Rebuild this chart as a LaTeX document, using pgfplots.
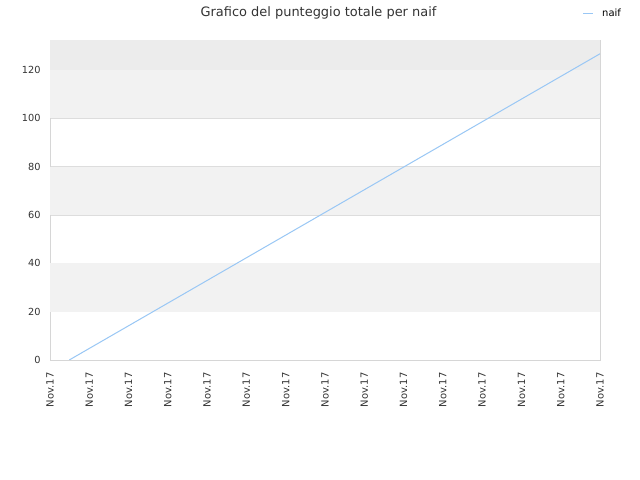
\documentclass[border=0pt]{standalone}
\usepackage{pgfplots}
\pgfplotsset{compat=1.18}
\usepackage{fontspec}
\setmainfont{DejaVu Sans}
\definecolor{bandgray}{HTML}{F2F2F2}
\definecolor{topgray}{HTML}{ECECEC}
\definecolor{gridc}{HTML}{DDDDDD}
\definecolor{axc}{HTML}{D6D6D6}
\definecolor{txt}{HTML}{333333}
\definecolor{naifc}{HTML}{99C7F5}

\begin{document}
\begin{tikzpicture}[x=1bp,y=1bp]
\path[use as bounding box, fill=white] (0,0) rectangle (640,480);
\node[font=\fontsize{13}{15}\selectfont, text=txt] at (318.5,467.5) {Grafico del punteggio totale per naif};
\draw[naifc, line width=1.2pt] (583,466.5) -- (593,466.5);
\node[font=\fontsize{10}{12}\selectfont, anchor=west, inner sep=0pt] at (602,467) {naif};
\begin{axis}[
    at={(50bp,120bp)}, anchor=south west,
    scale only axis,
    width=550bp, height=320bp,
    xmin=0, xmax=14,
    ymin=0, ymax=132.4,
    xtick={0,...,14},
    xticklabels={Nov.17,Nov.17,Nov.17,Nov.17,Nov.17,Nov.17,Nov.17,Nov.17,Nov.17,Nov.17,Nov.17,Nov.17,Nov.17,Nov.17,Nov.17},
    x tick label style={rotate=90, anchor=east, font=\fontsize{10}{12}\selectfont, text=txt},
    xticklabel shift=9bp,
    ytick={0,20,...,120},
    y tick label style={font=\fontsize{9.8}{11}\selectfont, text=txt},
    yticklabel shift=6bp,
    /pgf/number format/assume math mode=true,
    major tick length=0pt,
    ymajorgrids, grid style={gridc, line width=0.6pt},
    axis line style={axc, line width=0.8pt},
    clip=true,
]
\addplot[fill=bandgray, draw=none] coordinates {(0,20) (14,20) (14,40) (0,40)} -- cycle;
\addplot[fill=bandgray, draw=none] coordinates {(0,60) (14,60) (14,80) (0,80)} -- cycle;
\addplot[fill=bandgray, draw=none] coordinates {(0,100) (14,100) (14,120) (0,120)} -- cycle;
\addplot[fill=topgray, draw=none] coordinates {(0,120) (14,120) (14,132.4) (0,132.4)} -- cycle;
\addplot[naifc, line width=1pt, mark=none] coordinates {(0.49,0) (14,126.7)};
\end{axis}
\end{tikzpicture}
\end{document}
